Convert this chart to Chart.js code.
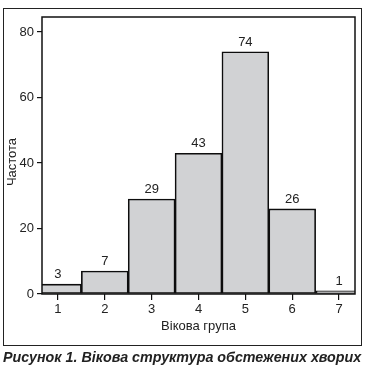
<!DOCTYPE html>
<html><head><meta charset="utf-8">
<script src="https://cdn.jsdelivr.net/npm/chart.js@4/dist/chart.umd.min.js"></script>
<style>
html,body{margin:0;padding:0;background:#fff;}
#wrap{position:relative;width:366px;height:372px;}
#frame{position:absolute;left:3px;top:8px;width:357px;height:336px;border:1.5px solid #222;box-sizing:content-box;pointer-events:none;}
#cap{position:absolute;left:3px;top:349px;font-family:"Liberation Sans",Arial,sans-serif;font-weight:bold;font-style:italic;font-size:14.3px;color:#222;white-space:nowrap;}
canvas{position:absolute;left:0;top:0;}
</style></head>
<body><div id="wrap"><canvas id="c" width="366" height="345"></canvas><div id="frame"></div><div id="cap">Рисунок 1. Вікова структура обстежених хворих</div></div>
<script>
const categories = [1, 2, 3, 4, 5, 6, 7];
const counts = [3, 7, 29, 43, 74, 26, 1];
const yTicks = [0, 20, 40, 60, 80];
const xTitle = 'Вікова група';
const yTitle = 'Частота';

const FONT = '"Liberation Sans Narrow","Liberation Sans",Arial,sans-serif';
const INK = '#222';

const framePlugin = {
  id: 'framePlugin',
  afterDatasetsDraw(chart) {
    const {ctx, chartArea: a} = chart;
    ctx.save();
    ctx.strokeStyle = '#111';
    ctx.lineWidth = 1.5;
    ctx.strokeRect(a.left, a.top, a.right - a.left, a.bottom - a.top);
    ctx.fillStyle = INK;
    ctx.font = '13px ' + FONT;
    ctx.textAlign = 'center';
    ctx.textBaseline = 'bottom';
    const meta = chart.getDatasetMeta(0);
    meta.data.forEach((el, i) => {
      ctx.fillText(String(counts[i]), el.x, el.y - 3);
    });
    // y axis title
    ctx.translate(12, 162);
    ctx.rotate(-Math.PI / 2);
    ctx.textBaseline = 'middle';
    ctx.fillText(yTitle, 0, 0);
    ctx.restore();
  }
};

new Chart(document.getElementById('c'), {
  type: 'bar',
  data: {
    datasets: [{
      data: categories.map((c, i) => ({x: c, y: counts[i]})),
      backgroundColor: '#d1d2d4',
      borderColor: '#0d0d0d',
      borderWidth: 1.6,
      borderSkipped: false,
      barPercentage: 1,
      categoryPercentage: 1,
      clip: 0
    }]
  },
  options: {
    responsive: false,
    animation: false,
    layout: {padding: {top: 17, right: 11, left: 0, bottom: 0}},
    plugins: {legend: {display: false}, tooltip: {enabled: false}},
    scales: {
      x: {
        type: 'linear',
        min: 0.66, max: 7.34,
        offset: false,
        afterFit: s => { s.height = 51; },
        afterBuildTicks: s => { s.ticks = categories.map(v => ({value: v})); },
        grid: {display: true, drawOnChartArea: false, offset: false, tickLength: 6, color: '#111', lineWidth: 1.2},
        border: {display: false},
        ticks: {color: INK, font: {family: FONT, size: 13}, padding: 2, maxRotation: 0},
        title: {display: true, text: xTitle, color: INK, font: {family: FONT, size: 13}, padding: {top: 0, bottom: 11}}
      },
      y: {
        min: 0, max: 84.6,
        afterFit: s => { s.width = 42; },
        afterBuildTicks: s => { s.ticks = yTicks.map(v => ({value: v})); },
        grid: {display: true, drawOnChartArea: false, tickLength: 5, color: '#111', lineWidth: 1.2},
        border: {display: false},
        ticks: {color: INK, font: {family: FONT, size: 13}, padding: 3},
        title: {display: false}
      }
    }
  },
  plugins: [framePlugin]
});
</script>
</body></html>
